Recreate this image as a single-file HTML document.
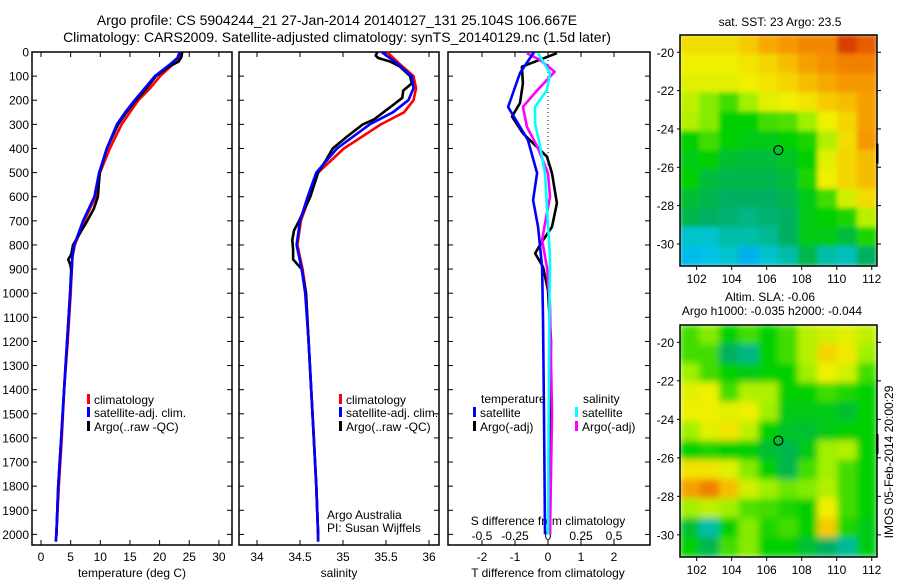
<!DOCTYPE html>
<html><head><meta charset="utf-8"><style>
html,body{margin:0;padding:0;background:#fff;}
svg{display:block;font-family:"Liberation Sans",sans-serif;}
</style></head><body>
<svg id="fig" width="900" height="580" viewBox="0 0 900 580">
<defs>
<filter id="sm" x="0" y="0" width="1" height="1"><feGaussianBlur stdDeviation="3.5" edgeMode="duplicate"/></filter>
<filter id="sm1" x="0" y="0" width="1" height="1"><feGaussianBlur stdDeviation="2.5" edgeMode="duplicate"/></filter>
<clipPath id="c1"><rect x="680" y="35" width="197" height="231"/></clipPath>
<clipPath id="c2"><rect x="680" y="325" width="197" height="232"/></clipPath>
</defs>
<text x="337" y="25" font-size="14" text-anchor="middle">Argo profile: CS 5904244_21 27-Jan-2014 20140127_131 25.104S 106.667E</text>
<text x="337" y="42" font-size="14" text-anchor="middle">Climatology: CARS2009. Satellite-adjusted climatology: synTS_20140129.nc (1.5d later)</text>
<text x="780" y="26" font-size="12" text-anchor="middle">sat. SST: 23 Argo: 23.5</text>
<text x="770" y="301" font-size="12" text-anchor="middle">Altim. SLA: -0.06</text>
<text x="772" y="315" font-size="12" text-anchor="middle">Argo h1000: -0.035 h2000: -0.044</text>
<text x="0" y="0" font-size="12" text-anchor="middle" transform="translate(893,462) rotate(-90)">IMOS 05-Feb-2014 20:00:29</text>
<g id="g"></g>
</svg>
<script>
// ---- profile data ----
const depthT = [0,25,50,100,150,200,250,300,400,500,600,700,800,850,900,1000,1200,1400,1600,1800,2000,2030];
const tempClim = [23.5,23.2,22.3,20.1,18.4,16.4,15.0,13.6,11.6,9.95,9.2,7.3,5.7,5.3,5.2,5.0,4.5,3.9,3.5,3.0,2.6,2.5];
const tempSat = [23.4,23.0,21.8,19.2,17.5,15.8,14.2,12.8,11.1,9.8,9.0,7.1,5.6,5.3,5.2,4.9,4.4,3.9,3.4,2.9,2.6,2.5];
const depthTA = [0,20,40,60,100,150,200,250,300,400,500,600,650,700,750,800,840,860,880,900,1000,1200,1400,1600,1800,2000];
const tempArgo = [23.8,23.7,23.2,21.6,19.4,17.8,16.0,14.4,13.0,11.1,9.9,9.6,8.9,7.8,6.6,5.4,5.1,4.6,4.9,5.1,4.9,4.4,3.9,3.4,2.9,2.6];
const depthS = [0,50,100,150,200,250,300,400,500,600,700,800,900,1000,1200,1400,1600,1800,2000,2030];
const salClim = [35.51,35.66,35.82,35.85,35.82,35.71,35.44,35.01,34.71,34.61,34.51,34.47,34.53,34.57,34.60,34.63,34.66,34.69,34.71,34.71];
const salSat = [35.45,35.64,35.80,35.82,35.76,35.58,35.31,34.93,34.69,34.59,34.50,34.46,34.52,34.56,34.60,34.63,34.66,34.69,34.71,34.71];
const depthSA = [0,15,25,40,60,100,130,160,190,220,250,280,300,350,400,450,500,600,700,740,780,820,860,880,900,1000,1200,1400,1600,1800,2000];
const salArgo = [35.40,35.38,35.41,35.55,35.66,35.78,35.80,35.70,35.69,35.58,35.47,35.36,35.23,35.05,34.88,34.80,34.71,34.62,34.49,34.43,34.41,34.42,34.42,34.47,34.52,34.57,34.60,34.63,34.66,34.69,34.71];
// ---- difference data ----
const depthDT = [0,87,228,365,502,614,726,892,1100,1500,2000];
const diffTSat = [-0.42,-0.85,-1.21,-0.61,-0.33,-0.45,-0.3,-0.18,-0.15,-0.12,-0.09];
const depthDTA = [5,61,130,212,268,337,434,503,627,725,780,835,891,988,1200,1500,2000];
const diffTArgo = [0.27,-0.79,-0.76,-0.85,-1.09,-0.76,-0.03,0.12,0.27,0.12,-0.15,-0.39,-0.15,0,0.09,0.06,0.06];
const depthDSA = [5,33,82,158,227,310,393,503,600,711,780,891,1057,1500,2000];
const diffSArgo = [-0.16,-0.06,0.05,-0.08,-0.19,-0.16,-0.08,0,0.015,-0.023,-0.045,-0.008,0.015,0.03,0.015];
const depthDSS = [5,88,158,227,296,393,503,642,849,1200,2000];
const diffSSat = [-0.076,0.015,-0.008,-0.098,-0.098,-0.06,-0.023,-0.008,0.015,0.008,0];
// ---- tick labels ----
const depthTicks = [0,100,200,300,400,500,600,700,800,900,1000,1100,1200,1300,1400,1500,1600,1700,1800,1900,2000];
const tempTicks = [0,5,10,15,20,25,30];
const salTicks = [34,34.5,35,35.5,36];
const tDiffTicks = [-2,-1,0,1,2];
const sDiffTicks = [-0.5,-0.25,0,0.25,0.5];
const lonTicks = [102,104,106,108,110,112];
const latTicks = [-20,-22,-24,-26,-28,-30];
// ---- map grids (normalised colour value 0..1), rows north->south ----
const sstGrid = [
[.75,.75,.75,.78,.83,.85,.87,.87,.95,.92],
[.72,.72,.72,.74,.76,.80,.84,.86,.88,.88],
[.70,.70,.70,.72,.74,.76,.80,.83,.85,.85],
[.66,.60,.55,.62,.70,.72,.74,.78,.80,.84],
[.64,.60,.50,.50,.55,.56,.62,.72,.76,.84],
[.50,.55,.50,.48,.48,.50,.52,.64,.75,.85],
[.48,.50,.45,.44,.44,.46,.50,.70,.76,.80],
[.50,.44,.42,.42,.42,.44,.52,.72,.76,.80],
[.45,.42,.40,.40,.40,.42,.48,.55,.68,.75],
[.42,.40,.38,.36,.38,.40,.48,.50,.52,.65],
[.28,.28,.32,.32,.34,.40,.48,.48,.44,.52],
[.22,.24,.28,.20,.28,.32,.42,.32,.30,.40]];
const slaGrid = [
[.55,.60,.50,.55,.50,.55,.65,.68,.70,.66],
[.55,.55,.40,.36,.50,.55,.65,.76,.73,.62],
[.62,.55,.50,.48,.50,.50,.62,.72,.68,.55],
[.70,.72,.55,.64,.64,.50,.50,.55,.52,.50],
[.72,.72,.70,.72,.62,.48,.48,.48,.45,.50],
[.62,.70,.74,.66,.50,.46,.45,.48,.50,.50],
[.50,.52,.50,.50,.45,.42,.48,.62,.64,.50],
[.74,.74,.70,.60,.50,.42,.55,.62,.55,.50],
[.84,.88,.80,.68,.62,.58,.60,.64,.55,.50],
[.62,.66,.62,.56,.55,.52,.50,.72,.55,.50],
[.45,.32,.50,.60,.52,.55,.50,.78,.52,.48],
[.50,.42,.55,.60,.50,.50,.45,.40,.34,.48]];

const NS='http://www.w3.org/2000/svg';
const G=document.getElementById('g');
function el(t,a,p){const e=document.createElementNS(NS,t);for(const k in a)e.setAttribute(k,a[k]);(p||G).appendChild(e);return e;}
const TOP=52,BOT=545;
const yD=d=>TOP+d*0.2412;
const xT=v=>41+v*5.93;
const xS=v=>257+(v-34)*86;
const xDT=v=>548+v*33;
const xDS=v=>548+v*132;

function panel(x0,x1,name){
  const r=el('rect',{x:x0,y:TOP,width:x1-x0,height:BOT-TOP,fill:'none',stroke:'#000','stroke-width':1.5});
  
  
  depthTicks.forEach(d=>{const y=yD(d);
    el('line',{x1:x0,y1:y,x2:x0+5,y2:y,stroke:'#000'});
    el('line',{x1:x1,y1:y,x2:x1-5,y2:y,stroke:'#000'});});
}
panel(32,232,'temperature-panel');panel(239,439,'salinity-panel');panel(448,650,'difference-panel');

function xticks(vals,fx,ylab,name){
  vals.forEach(v=>{const x=fx(v);
    el('line',{x1:x,y1:BOT,x2:x,y2:BOT-5,stroke:'#000'});
    el('line',{x1:x,y1:TOP,x2:x,y2:TOP+5,stroke:'#000'});
    const t=el('text',{x:x,y:ylab,'font-size':12,'text-anchor':'middle'});t.textContent=v;
    
    });
}
xticks(tempTicks,xT,561,'temp-tick-label');
xticks(salTicks,xS,561,'salinity-tick-label');
xticks(tDiffTicks,xDT,561,'tdiff-tick-label');
sDiffTicks.forEach(v=>{const t=el('text',{x:xDS(v),y:540,'font-size':12,'text-anchor':'middle'});t.textContent=v;
  
  });
depthTicks.forEach(d=>{const t=el('text',{x:29,y:yD(d)+4.5,'font-size':12,'text-anchor':'end'});t.textContent=d;
  
  });

function lbl(x,y,s,name,anchor,size){const t=el('text',{x:x,y:y,'font-size':size||12,'text-anchor':anchor||'start'});t.textContent=s;
  
  return t;}
lbl(132,577,'temperature (deg C)','temp-axis-title','middle');
lbl(339,577,'salinity','salinity-axis-title','middle');
lbl(548,577,'T difference from climatology','tdiff-axis-title','middle');
lbl(548,525,'S difference from climatology','sdiff-axis-title','middle');
lbl(327,519,'Argo Australia','argo-australia-label');
lbl(327,532,'PI: Susan Wijffels','pi-label');

el('line',{x1:548,y1:TOP,x2:548,y2:165,stroke:'#000','stroke-dasharray':'1,3'});

function series(xs,ds,fx,col,name,w){
  const pts=xs.map((v,i)=>fx(v).toFixed(1)+','+yD(ds[i]).toFixed(1)).join(' ');
  const p=el('polyline',{points:pts,fill:'none',stroke:col,'stroke-width':w||2.6,'stroke-linejoin':'round'});
  
  
}
series(tempClim,depthT,xT,'#ff0000','temp-climatology-line');
series(tempArgo,depthTA,xT,'#000','temp-argo-line');
series(tempSat,depthT,xT,'#0000ff','temp-satellite-line');
series(salClim,depthS,xS,'#ff0000','salinity-climatology-line');
series(salArgo,depthSA,xS,'#000','salinity-argo-line');
series(salSat,depthS,xS,'#0000ff','salinity-satellite-line');
series(diffTArgo,depthDTA,xDT,'#000','tdiff-argo-line');
series(diffSArgo,depthDSA,xDS,'#ff00ff','sdiff-argo-line');
series(diffTSat,depthDT,xDT,'#0000ff','tdiff-satellite-line');
series(diffSSat,depthDSS,xDS,'#00ffff','sdiff-satellite-line');

function leg(x,y,col,s,name){
  const r=el('rect',{x:x,y:y-6,width:3,height:10,fill:col});
  
  
  lbl(x+7,y+4,s,name);
}
leg(87,400,'#ff0000','climatology','legend-t-climatology');
leg(87,413,'#0000ff','satellite-adj. clim.','legend-t-satellite');
leg(87,427,'#000','Argo(..raw -QC)','legend-t-argo');
leg(339,400,'#ff0000','climatology','legend-s-climatology');
leg(339,413,'#0000ff','satellite-adj. clim.','legend-s-satellite');
leg(339,427,'#000','Argo(..raw -QC)','legend-s-argo');
lbl(481,403,'temperature','legend-temperature-heading');
lbl(583,403,'salinity','legend-salinity-heading');
leg(473,413,'#0000ff','satellite','legend-tdiff-satellite');
leg(473,427,'#000','Argo(-adj)','legend-tdiff-argo');
leg(575,413,'#00ffff','satellite','legend-sdiff-satellite');
leg(575,427,'#ff00ff','Argo(-adj)','legend-sdiff-argo');

const stops=[[0,[0,80,255]],[.25,[0,200,232]],[.4,[0,176,96]],[.5,[0,208,0]],[.62,[160,240,0]],[.72,[240,240,0]],[.82,[248,176,0]],[.9,[240,112,0]],[1,[192,16,0]]];
function cmap(v){for(let i=1;i<stops.length;i++){if(v<=stops[i][0]){const a=stops[i-1],b=stops[i],f=(v-a[0])/(b[0]-a[0]);
  return 'rgb('+a[1].map((c,k)=>Math.round(c+(b[1][k]-c)*f)).join(',')+')';}}return 'rgb(192,16,0)';}

const LON0=101.05,LON1=112.3,LAT0=-19.1,LAT1=-31.15;
function map(grid,y0,y1,clip,filt,name){
  const x0=680,x1=877;
  const fx=l=>x0+(l-LON0)/(LON1-LON0)*(x1-x0);
  const fy=l=>y0+(l-LAT0)/(LAT1-LAT0)*(y1-y0);
  const cg=el('g',{'clip-path':'url(#'+clip+')'});
  const ig=el('g',{filter:'url(#'+filt+')'},cg);
  const nr=grid.length,nc=grid[0].length;
  const dLat=(LAT1-LAT0)/nr,dLon=(LON1-LON0)/nc;
  grid.forEach((row,i)=>row.forEach((v,j)=>{
    const cx=fx(LON0+j*dLon),cy=fy(LAT0+i*dLat);
    const c=el('rect',{x:cx-0.5,y:cy-0.5,width:fx(LON0+(j+1)*dLon)-cx+1,height:fy(LAT0+(i+1)*dLat)-cy+1,fill:cmap(v)},ig);
    
    
  }));
  const fr=el('rect',{x:x0,y:y0,width:x1-x0,height:y1-y0,fill:'none',stroke:'#000','stroke-width':1.5});
  
  
  const m=el('circle',{cx:fx(106.667),cy:fy(-25.104),r:4.5,fill:'none',stroke:'#000','stroke-width':1.2});
  
  
  el('rect',{x:x1-1,y:y0+(y1-y0)*0.47,width:2.5,height:20,fill:'#000'});
  lonTicks.forEach(l=>{const x=fx(l);
    el('line',{x1:x,y1:y1,x2:x,y2:y1+4,stroke:'#000'});
    lbl(x,y1+17,String(l),'map-lon-label','middle');});
  latTicks.forEach(l=>{const y=fy(l);
    el('line',{x1:x1,y1:y,x2:x1+4,y2:y,stroke:'#000'});
    el('line',{x1:x0,y1:y,x2:x0-3,y2:y,stroke:'#000'});
    lbl(674,y+4.5,String(l),'map-lat-label','end');});
}
map(sstGrid,35,266,'c1','sm1','sst-map');
map(slaGrid,325,557,'c2','sm','sla-map');
</script>
</body></html>
